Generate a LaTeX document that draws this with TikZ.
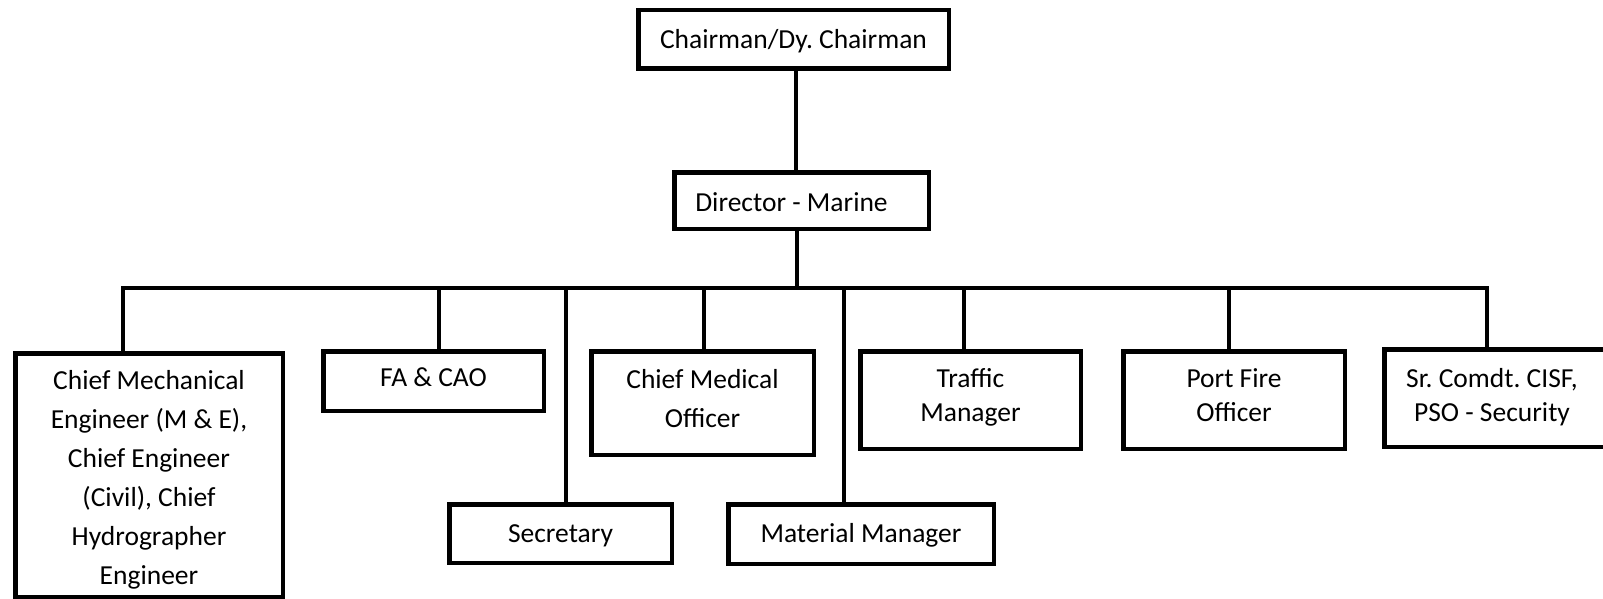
\documentclass[tikz,border=0pt]{standalone}
\usepackage{fontspec}
\setmainfont{Carlito}
\frenchspacing
\begin{document}
\begin{tikzpicture}[x=1pt,y=-1pt,
  box/.style={draw, line width=4.5pt, rectangle, inner sep=0pt},
  tx/.style={align=center, inner sep=0pt, font=\fontsize{27.5}{34}\selectfont},
  loose/.style={font=\fontsize{27.5}{39}\selectfont},
  link/.style={line width=4.5pt}]
\useasboundingbox (0,0) rectangle (1603,599);
\begin{scope}
\clip (0,0) rectangle (1603,599);

% top of the hierarchy
\node[box, minimum width=310.5, minimum height=58.5,
      label={[tx, yshift=-2pt]center:Chairman/Dy. Chairman}] (chair) at (793.5,39.5) {};
\node[box, minimum width=254.5, minimum height=56.5,
      label={[tx, xshift=-10pt, yshift=-2pt]center:Director - Marine}] (dir) at (801.5,200.5) {};

% departments
\node[box, minimum width=267.5, minimum height=243.5,
      label={[tx, loose, yshift=-5pt]center:{Chief Mechanical\\Engineer (M \& E),\\Chief Engineer\\(Civil), Chief\\Hydrographer\\Engineer}}] (cme) at (149,475) {};
\node[box, minimum width=220.5, minimum height=59.5,
      label={[tx, yshift=4pt]center:FA \& CAO}] (fa) at (433.5,381) {};
\node[box, minimum width=222.5, minimum height=58.5,
      label={[tx, yshift=-2pt]center:Secretary}] (sec) at (560.5,533.5) {};
\node[box, minimum width=222.5, minimum height=103.5,
      label={[tx, loose, yshift=4.5pt]center:{Chief Medical\\Officer}}] (cmo) at (702.5,403) {};
\node[box, minimum width=265.5, minimum height=59.5,
      label={[tx, yshift=-1pt]center:Material Manager}] (mm) at (861,534) {};
\node[box, minimum width=220.5, minimum height=97.5,
      label={[tx, yshift=2.5pt]center:{Traffic\\Manager}}] (tm) at (970.5,400) {};
\node[box, minimum width=221.5, minimum height=97.5,
      label={[tx, yshift=5pt]center:{Port Fire\\Officer}}] (pfo) at (1234,400) {};
\node[box, minimum width=223.5, minimum height=97.5,
      label={[tx, xshift=-4pt, yshift=1pt]center:{Sr. Comdt. CISF,\\PSO - Security}}] (sr) at (1496,398) {};

% x positions of the vertical links and the level of the bus line
\coordinate (top)  at (796,0);
\coordinate (mid)  at (797,0);
\coordinate (bus)  at (0,288);
\coordinate (xcme) at (123,0);
\coordinate (xfa)  at (439,0);
\coordinate (xsec) at (566,0);
\coordinate (xcmo) at (704,0);
\coordinate (xmm)  at (844,0);
\coordinate (xtm)  at (964,0);
\coordinate (xpfo) at (1229,0);
\coordinate (xsr)  at (1487,0);

\draw[link] (chair.south -| top) -- (dir.north -| top);
\draw[link] (dir.south -| mid) -- (bus -| mid);
\draw[link] (cme.north -| xcme) -- (bus -| xcme) -- (bus -| xsr) -- (sr.north -| xsr);
\draw[link] (bus -| xfa)  -- (fa.north -| xfa);
\draw[link] (bus -| xsec) -- (sec.north -| xsec);
\draw[link] (bus -| xcmo) -- (cmo.north -| xcmo);
\draw[link] (bus -| xmm)  -- (mm.north -| xmm);
\draw[link] (bus -| xtm)  -- (tm.north -| xtm);
\draw[link] (bus -| xpfo) -- (pfo.north -| xpfo);
\end{scope}
\end{tikzpicture}
\end{document}
